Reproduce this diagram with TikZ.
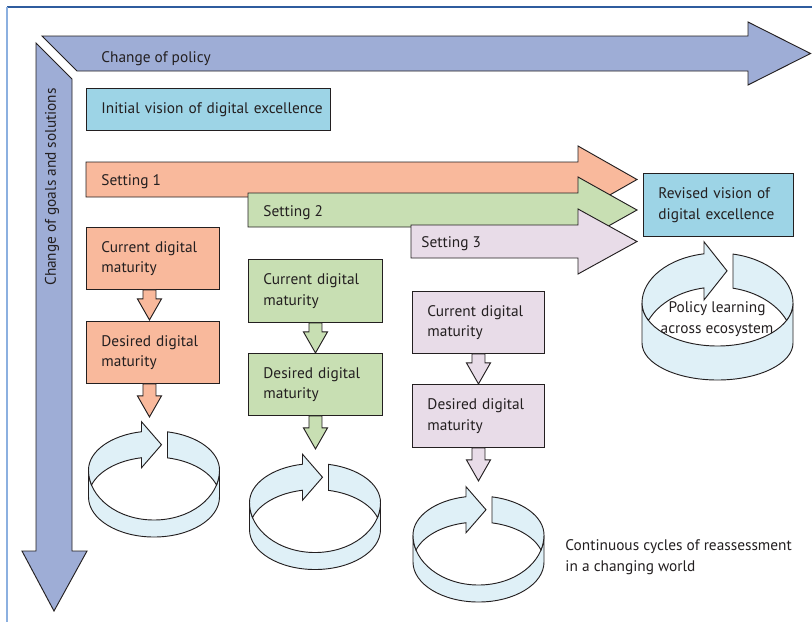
\documentclass[tikz,border=0pt]{standalone}
\usepackage{fontspec}
\setmainfont{PT Sans}
\definecolor{bigarrow}{HTML}{9EADD6}
\definecolor{orng}{HTML}{F9B99C}
\definecolor{grn}{HTML}{C8DFB3}
\definecolor{purp}{HTML}{E8DCE8}
\definecolor{vis}{HTML}{9DD4E6}
\definecolor{ringc}{HTML}{DFF0F7}
\definecolor{ln}{HTML}{231F20}
\definecolor{frameA}{HTML}{2F5C9E}
\definecolor{frameB}{HTML}{8CB0E0}
\newcommand\setring[6]{\def\Rrx{#1}\def\Rryb{#2}\def\Rryf{#3}\def\Rh{#4}\def\Rrtb{#5}\def\Rrtf{#6}}
\newcommand\drawring[6]{%
\begin{scope}[shift={(#1,#2)}]
\pgfmathsetmacro\Rta{acos((#3)/\Rrx)}
\pgfmathsetmacro\Rtb{acos((#5)/\Rrx)}
\pgfmathsetmacro\Rtc{asin(\Rh/(\Rryf+\Rrtb))}
\pgfmathsetmacro\Rya{-\Rryb*sin(\Rta)}
\pgfmathsetmacro\Ryb{\Rh-\Rrtb*sin(\Rta)}
\pgfmathsetmacro\Rym{(\Rya+\Ryb)/2}
\pgfmathsetmacro\Ryat{\Rya-(#6)}
\pgfmathsetmacro\Rybt{\Ryb+(#6)}
\pgfmathsetmacro\Ryr{-\Rryb*sin(\Rtb)}
\draw[ringfill] (-\Rrx,0) arc[start angle=180, end angle=0, x radius=\Rrx, y radius=\Rryf]
  -- (\Rrx,\Rh) arc[start angle=0, end angle=180, x radius=\Rrx, y radius=\Rrtf] -- cycle;
\draw[ringfill] (-\Rrx,0) arc[start angle=180, end angle={360-\Rta}, x radius=\Rrx, y radius=\Rryb]
  -- (#3,\Ryat) -- (#4,\Rym) -- (#3,\Rybt) -- (#3,\Ryb)
  arc[start angle={360-\Rta}, end angle={180+\Rtc}, x radius=\Rrx, y radius=\Rrtb]
  arc[start angle={180-\Rtc}, end angle=180, x radius=\Rrx, y radius=\Rryf] -- cycle;
\draw[ringfill] (#5,\Ryr) arc[start angle={360-\Rtb}, end angle=360, x radius=\Rrx, y radius=\Rryb]
  arc[start angle=0, end angle=\Rtc, x radius=\Rrx, y radius=\Rryf]
  arc[start angle={360-\Rtc}, end angle={360-\Rtb}, x radius=\Rrx, y radius=\Rrtb] -- cycle;
\end{scope}}
\begin{document}
\begin{tikzpicture}[x=0.75pt,y=-0.75pt, line width=0.7pt, line join=miter,
  every node/.style={font=\fontsize{11.5}{15.5}\selectfont, text=ln, inner sep=0pt},
  blk/.style={draw=ln, fill=#1},
  ringfill/.style={draw=ln, fill=ringc},
  box/.style={draw=ln, fill=#1, anchor=north west, align=left, inner xsep=11.25pt, inner ysep=0pt}]
\useasboundingbox (0,0) rectangle (812,622);
% frame
\draw[frameA, line width=1pt] (7,7) -- (812,7);
\draw[frameB, line width=1.3pt] (7,7) -- (7,622);
% big arrows
\draw[blk=bigarrow] (42,36) -- (748,36) -- (748,22) -- (810.5,53.5) -- (748,85) -- (748,71) -- (77,71) -- cycle;
\draw[blk=bigarrow] (36,43) -- (72,79) -- (72,551) -- (87,551) -- (54,611) -- (22,551) -- (36,551) -- cycle;
\node[anchor=base west] (pol) at (101,62) {Change of policy};
\node[rotate=90] (goals) at (52,187) {Change of goals and solutions};
% initial vision
\node[box=vis, text width=160.5pt, minimum height=31.5pt] (init) at (86,88) {\mbox{Initial vision of digital excellence}};
% setting arrows
\draw[blk=orng] (86,162) -- (578,162) -- (578,146) -- (637,179.5) -- (578,213) -- (578,197) -- (86,197) -- cycle;
\draw[blk=grn] (248,193) -- (578,193) -- (578,177) -- (637,210) -- (578,243) -- (578,227) -- (248,227) -- cycle;
\draw[blk=purp] (411,225) -- (578,225) -- (578,209) -- (637,241.5) -- (578,274) -- (578,258) -- (411,258) -- cycle;
\node[anchor=base west] (s1) at (101,185) {Setting 1};
\node[anchor=base west] (s2) at (263,216) {Setting 2};
\node[anchor=base west] (s3) at (421,247) {Setting 3};
% boxes
\node[box=orng, text width=77.25pt, minimum height=46.5pt] (c1) at (86,227) {Current digital\\maturity};
\node[box=orng, text width=77.25pt, minimum height=46.5pt] (d1) at (86,321) {Desired digital\\maturity};
\node[box=grn, text width=78pt, minimum height=47.25pt] (c2) at (248,259) {Current digital\\maturity};
\node[box=grn, text width=78pt, minimum height=46.5pt] (d2) at (248,353) {Desired digital\\maturity};
\node[box=purp, text width=76.5pt, minimum height=46.5pt] (c3) at (412,291) {Current digital\\maturity};
\node[box=purp, text width=76.5pt, minimum height=47.25pt] (d3) at (412,384) {Desired digital\\maturity};
\node[box=vis, text width=90pt, minimum height=47.25pt] (rev) at (643,173) {Revised vision of\\digital excellence};
% small down arrows
\draw[blk=orng] (c1.south) ++(-10,0) -- ++(0,9) -- ++(-5.5,0) -- ++(12,21) -- ++(12,-21) -- ++(-5.5,0) -- ++(0,-9) -- cycle;
\draw[blk=orng] (d1.south) ++(-10,0) -- ++(0,12) -- ++(-5.5,0) -- ++(12,21) -- ++(12,-21) -- ++(-5.5,0) -- ++(0,-12) -- cycle;
\draw[blk=grn] (c2.south) ++(-6.5,0) -- ++(0,9) -- ++(-5.5,0) -- ++(12,21) -- ++(12,-21) -- ++(-5.5,0) -- ++(0,-9) -- cycle;
\draw[blk=grn] (d2.south) ++(-6.5,0) -- ++(0,12) -- ++(-5.5,0) -- ++(12,21) -- ++(12,-21) -- ++(-5.5,0) -- ++(0,-12) -- cycle;
\draw[blk=purp] (c3.south) ++(-6.5,0) -- ++(0,9) -- ++(-5.5,0) -- ++(12,21) -- ++(12,-21) -- ++(-5.5,0) -- ++(0,-9) -- cycle;
\draw[blk=purp] (d3.south) ++(-6.5,0) -- ++(0,12) -- ++(-5.5,0) -- ++(12,21) -- ++(12,-21) -- ++(-5.5,0) -- ++(0,-12) -- cycle;
% rings
\setring{65.5}{39}{50}{27}{40}{40}
\drawring{154}{470}{-12.5}{7.5}{13.5}{10}
\drawring{315}{502.5}{-12.5}{7.5}{13.5}{10}
\drawring{478.5}{535}{-12.5}{7.5}{13.5}{10}
\setring{75.5}{50}{43}{40}{56}{37}
\drawring{717.5}{303}{-13.5}{9.5}{15.5}{12}
\node[align=center] (pl) at (717,319) {Policy learning\\across ecosystem};
\node[anchor=west, align=left] (cont) at (565,557) {Continuous cycles of reassessment\\in a changing world};
\end{tikzpicture}
\end{document}
